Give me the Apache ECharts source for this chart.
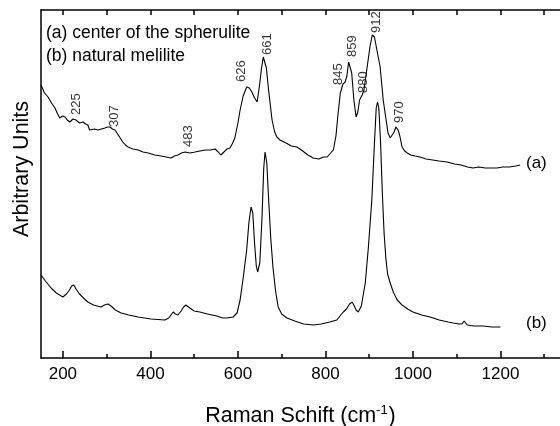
<!DOCTYPE html>
<html>
<head>
<meta charset="utf-8">
<script src="https://cdn.jsdelivr.net/npm/echarts@6/dist/echarts.min.js"></script>
<style>
  html, body { margin: 0; padding: 0; background: #fff; }
  #chart { width: 560px; height: 426px; }
</style>
</head>
<body>
<div id="chart"></div>
<script>
// spectrum (a): center of the spherulite  [Raman shift, intensity]
const spectrumA = [
  [150,273],[158,265],[166,261],[174,255],[182,250],[188,244],[193,240],[199,242],[205,241],[210,238],
  [216,236],[223,239],[230,238],[238,235],[246,236],[252,234],[257,233],[261,228],[264,226],[272,229],
  [280,228],[288,229],[296,230],[302,231],[308,231],[313,229],[319,228],[328,222],[337,216],[343,213],
  [349,211],[360,209],[372,208],[383,206],[395,205],[410,203],[424,202],[436,201],[447,200],[455,202],
  [463,203],[471,205],[479,206],[490,205],[502,206],[513,207],[525,208],[537,208],[548,209],[555,206],
  [561,203],[568,206],[575,209],[582,210],[588,215],[593,220],[600,235],[605,248],[612,262],[620,271],
  [626,270],[632,266],[638,260],[644,256],[650,275],[654,290],[658,301],[661,301],[665,290],[670,268],
  [678,238],[684,226],[689,221],[696,218],[710,215],[722,212],[735,211],[748,207],[760,203],[772,200],
  [785,199],[795,201],[804,201],[812,205],[818,208],[824,222],[829,245],[834,265],[840,274],[845,276],
  [849,282],[853,296],[856,298],[860,285],[865,258],[870,241],[874,246],[878,258],[884,263],[888,268],
  [895,290],[902,312],[907,323],[912,321],[918,307],[925,291],[932,258],[938,240],[943,225],[948,220],
  [952,221],[957,226],[961,231],[966,228],[970,222],[975,211],[981,207],[987,205],[995,203],[1005,202],
  [1016,201],[1030,199],[1045,198],[1060,197],[1078,196],[1095,194],[1110,193],[1125,191],[1137,190],
  [1150,191],[1165,190],[1180,190],[1192,190],[1205,191],[1220,191],[1235,192],[1245,193]
]

// spectrum (b): natural melilite
const spectrumB = [
  [150,83],[160,77],[173,70],[185,65],[200,61],[208,64],[215,68],[220,72],[225,73],[230,69],
  [238,64],[247,60],[257,56],[270,53],[287,51],[295,53],[303,54],[310,52],[320,48],[333,45],
  [350,43],[372,41],[401,39],[433,38],[442,40],[447,43],[452,46],[457,44],[463,43],[470,47],
  [476,51],[481,53],[490,50],[500,47],[513,46],[530,44],[552,42],[565,40],[575,40],[589,41],
  [598,45],[605,58],[612,80],[620,108],[625,135],[630,151],[634,145],[638,115],[642,92],[645,86],
  [650,95],[655,140],[659,190],[662,206],[666,195],[670,160],[675,120],[680,91],[686,67],[692,51],
  [700,44],[712,40],[730,37],[750,34],[772,33],[790,34],[810,36],[826,38],[835,43],[841,46],
  [848,49],[855,54],[861,56],[866,52],[870,48],[875,46],[882,52],[891,75],[898,110],[906,158],
  [912,215],[916,250],[919,256],[922,250],[926,215],[930,165],[934,125],[938,100],[942,84],[948,75],
  [955,66],[964,58],[975,53],[988,49],[1000,46],[1020,43],[1039,41],[1060,38],[1080,36],[1092,35],
  [1105,34],[1112,34],[1117,37],[1120,38],[1124,33],[1140,32],[1160,32],[1180,31],[1200,31]
]

// peak labels on (a) and where each one stands
const peakLabels = ['225', '307', '483', '626', '661', '845', '859', '880', '912', '970']
const peakAnchorX = [232, 317, 488, 609, 667, 829, 861, 886, 916, 968]
const peakAnchorY = [243, 231, 211, 276, 303, 273, 301, 265, 325, 235]

const majorTicks = [200, 400, 600, 800, 1000, 1200]
const minorTicks = [300, 500, 700, 900, 1100, 1300]
const allTicks = [200, 300, 400, 500, 600, 700, 800, 900, 1000, 1100, 1200, 1300]

const font = 'Arial, "Liberation Sans", sans-serif'
const chart = echarts.init(document.getElementById('chart'))

const axisBase = {
  type: 'value',
  min: 150,
  max: 1336,
  splitLine: { show: false }
}

const option = {
  backgroundColor: '#fff',
  animation: false,
  grid: { left: 41, right: 0, top: 10, bottom: 68, containLabel: false, outerBoundsMode: 'none' },
  xAxis: [
    Object.assign({}, axisBase, {
      position: 'bottom',
      axisLine: { show: true, lineStyle: { color: '#000', width: 1.5 } },
      axisTick: { show: true, inside: true, length: 7, customValues: majorTicks, lineStyle: { color: '#000', width: 1.5 } },
      axisLabel: {
        show: true, customValues: majorTicks, margin: 8, color: '#000', fontSize: 17, fontFamily: font,
        formatter: v => String(v)
      },
      name: 'Raman Schift (cm{sup|-1})',
      nameLocation: 'middle',
      nameGap: 46,
      nameTextStyle: {
        color: '#000', fontSize: 21.5, fontFamily: font,
        rich: { sup: { fontSize: 13, fontFamily: font, color: '#000', verticalAlign: 'top', padding: [0, 1, 12, 0] } }
      }
    }),
    Object.assign({}, axisBase, {
      position: 'bottom',
      axisLine: { show: false },
      axisTick: { show: true, inside: true, length: 4, customValues: minorTicks, lineStyle: { color: '#000', width: 1.5 } },
      axisLabel: { show: false }
    }),
    Object.assign({}, axisBase, {
      position: 'top',
      axisLine: { show: true, lineStyle: { color: '#000', width: 1.5 } },
      axisTick: { show: true, inside: true, length: 5, customValues: allTicks, lineStyle: { color: '#000', width: 1.5 } },
      axisLabel: { show: false }
    })
  ],
  yAxis: {
    type: 'value',
    min: 0,
    max: 348,
    axisLine: { show: true, lineStyle: { color: '#000', width: 1.5 } },
    axisTick: { show: false },
    axisLabel: { show: false },
    splitLine: { show: false }
  },
  graphic: [
    { type: 'text', left: 46, top: 24, style: { text: '(a) center of the spherulite', fill: '#000', font: '17.5px ' + font } },
    { type: 'text', left: 46, top: 47, style: { text: '(b) natural melilite', fill: '#000', font: '17.5px ' + font } },
    { type: 'text', left: 526, top: 155, style: { text: '(a)', fill: '#000', font: '17px ' + font } },
    { type: 'text', left: 526, top: 315, style: { text: '(b)', fill: '#000', font: '17px ' + font } },
    {
      type: 'text', x: 22, y: 169, rotation: Math.PI / 2,
      style: { text: 'Arbitrary Units', fill: '#000', font: '21.5px ' + font, align: 'center', verticalAlign: 'middle' }
    }
  ],
  series: [
    {
      name: '(a)', type: 'line', xAxisIndex: 0, data: spectrumA,
      showSymbol: false, smooth: false,
      lineStyle: { color: '#000', width: 1.1 }
    },
    {
      name: '(b)', type: 'line', xAxisIndex: 0, data: spectrumB,
      showSymbol: false, smooth: false,
      lineStyle: { color: '#000', width: 1.1 }
    },
    {
      name: 'peaks', type: 'scatter', xAxisIndex: 0,
      symbolSize: 1,
      itemStyle: { color: 'rgba(0,0,0,0)' },
      data: peakLabels.map((t, i) => ({ name: t, value: [peakAnchorX[i], peakAnchorY[i]] })),
      label: {
        show: true, position: 'inside', rotate: 90, align: 'left', verticalAlign: 'middle',
        formatter: p => p.name, color: '#000', fontSize: 13, fontFamily: font
      }
    }
  ]
}

chart.setOption(option)
</script>
</body>
</html>
